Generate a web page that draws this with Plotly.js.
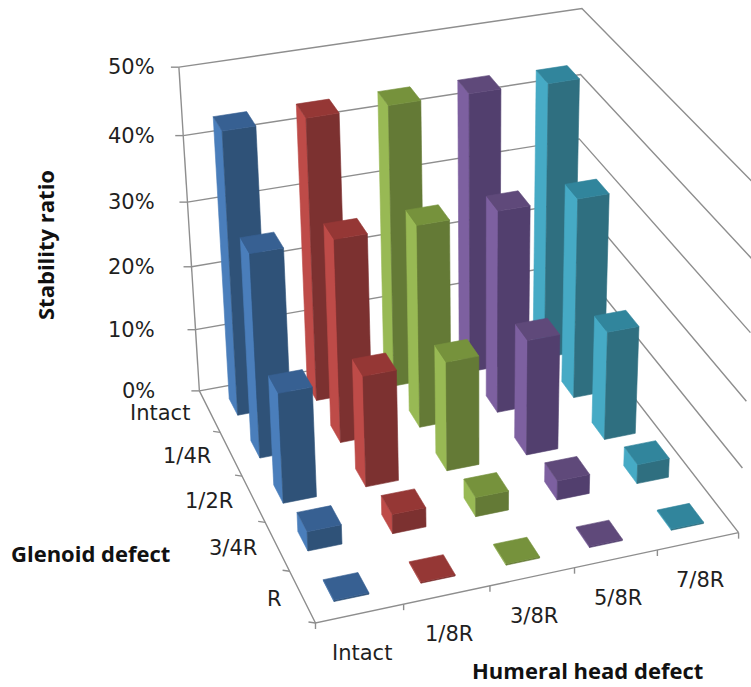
<!DOCTYPE html>
<html><head><meta charset="utf-8">
<script src="https://cdn.plot.ly/plotly-3.0.1.min.js"></script>
<style>html,body{margin:0;background:#fff}#c{width:751px;height:687px}</style></head>
<body><div id="c"></div>
<script>
// Stability ratio (%) by humeral head defect (series) and glenoid defect (rows)
const humeralDefects = ['Intact', '1/8R', '3/8R', '5/8R', '7/8R'];
const glenoidDefects = ['Intact', '1/4R', '1/2R', '3/4R', 'R'];
const seriesIntact = [43.8, 31.5, 17, 3, 0.2];
const series18R = [43.8, 31.5, 17.2, 3, 0.2];
const series38R = [43.8, 31.5, 17, 3, 0.2];
const series58R = [43.7, 31.6, 18, 3, 0.2];
const series78R = [43.4, 31.4, 17, 3, 0.2];
const allSeries = [seriesIntact, series18R, series38R, series58R, series78R];
const valueTicks = [0, 10, 20, 30, 40, 50];
const valueLabels = ['0%', '10%', '20%', '30%', '40%', '50%'];

// Face shades per series: side, front, top
const faceColors = [
  ['#4a7ebb', '#2f5278', '#376092'],
  ['#be4b48', '#7c3130', '#953735'],
  ['#98b954', '#647a36', '#76923c'],
  ['#7d60a0', '#523f6e', '#5f497a'],
  ['#46aac5', '#2f6f80', '#31859c']
];
const gridColor = '#8e8e8e';
const halfBar = 0.2;

// Camera calibration: world (humeral, glenoid, value) to screen pixels
const frontCorner = [0,5,0,316.7,622.7];
const calibration = [
  [0,0,0,203,391.5],[0,0,10,196.7,331],[0,0,20,191.7,266.7],[0,0,30,187,202.7],[0,0,40,183,135],[0,0,50,179.3,67.3],
  [5,0,50,581.7,8.3],[5,0,0,577,322],
  frontCorner,frontCorner,frontCorner,frontCorner,frontCorner,frontCorner,frontCorner,frontCorner,
  [0,1,0,216.7,431.7],[0,2,0,240.7,475],[0,3,0,260,520.7],[0,4,0,286,570.7],
  [1,5,0,402.7,606.7],[2,5,0,490,588],[3,5,0,575,570],[5,5,0,737,530]
];
function solve(A, b) {
  const n = b.length;
  for (let c = 0; c < n; c++) {
    let p = c;
    for (let r = c + 1; r < n; r++) if (Math.abs(A[r][c]) > Math.abs(A[p][c])) p = r;
    [A[c], A[p]] = [A[p], A[c]]; [b[c], b[p]] = [b[p], b[c]];
    for (let r = c + 1; r < n; r++) {
      const f = A[r][c] / A[c][c];
      for (let k = c; k < n; k++) A[r][k] -= f * A[c][k];
      b[r] -= f * b[c];
    }
  }
  const x = new Array(n);
  for (let r = n - 1; r >= 0; r--) {
    let s = b[r];
    for (let k = r + 1; k < n; k++) s -= A[r][k] * x[k];
    x[r] = s / A[r][r];
  }
  return x;
}
function fitCamera() {
  const AtA = Array.from({length: 11}, () => new Array(11).fill(0)), Atb = new Array(11).fill(0);
  const add = (row, rhs) => {
    for (let a = 0; a < 11; a++) {
      Atb[a] += row[a] * rhs;
      for (let c = 0; c < 11; c++) AtA[a][c] += row[a] * row[c];
    }
  };
  calibration.forEach(([X, Y, Z, u, v]) => {
    const x = X / 5, y = Y / 5, z = Z / 50, U = u / 700, V = v / 700;
    add([x, y, z, 1, 0, 0, 0, 0, -U * x, -U * y, -U * z], U);
    add([0, 0, 0, 0, x, y, z, 1, -V * x, -V * y, -V * z], V);
  });
  return solve(AtA, Atb);
}
const cam = fitCamera();
function project(X, Y, Z) {
  const x = X / 5, y = Y / 5, z = Z / 50;
  const w = cam[8] * x + cam[9] * y + cam[10] * z + 1;
  return [700 * (cam[0] * x + cam[1] * y + cam[2] * z + cam[3]) / w,
          700 * (cam[4] * x + cam[5] * y + cam[6] * z + cam[7]) / w];
}

const traces = [];
function polyline(points, color, width) {
  const p = points.map(q => project(q[0], q[1], q[2]));
  traces.push({type: 'scatter', mode: 'lines', x: p.map(q => q[0]), y: p.map(q => q[1]),
    line: {color, width: width || 1.4}, hoverinfo: 'skip'});
}
function face(points, color) {
  const p = points.map(q => project(q[0], q[1], q[2]));
  p.push(p[0]);
  traces.push({type: 'scatter', mode: 'lines', fill: 'toself', fillcolor: color, x: p.map(q => q[0]), y: p.map(q => q[1]),
    line: {color, width: 0.6}, hoverinfo: 'skip'});
}
function pixelTick(X, Y, Z, dx, dy) {
  const a = project(X, Y, Z);
  traces.push({type: 'scatter', mode: 'lines', x: [a[0], a[0] + dx], y: [a[1], a[1] + dy],
    line: {color: gridColor, width: 1.4}, hoverinfo: 'skip'});
}

// Walls, floor edges and tick marks
valueTicks.forEach(t => {
  polyline([[0, 0, t], [5, 0, t], [5, 5, t]], gridColor);
  pixelTick(0, 0, t, -8, 0);
});
polyline([[0, 0, 0], [0, 0, 50]], gridColor);
polyline([[0, 0, 0], [0, 5, 0], [5, 5, 0]], gridColor);
for (let k = 1; k <= 5; k++) pixelTick(0, k, 0, -7, -1);
for (let k = 0; k <= 5; k++) pixelTick(k, 5, 0, 0, 6);

// Boxes painted back to front: far rows first, right columns before left ones
glenoidDefects.forEach((_, row) => {
  for (let col = humeralDefects.length - 1; col >= 0; col--) {
    const v = allSeries[col][row];
    const [side, front, top] = faceColors[col];
    const x0 = col + 0.5 - halfBar, x1 = col + 0.5 + halfBar;
    const y0 = row + 0.5 - halfBar, y1 = row + 0.5 + halfBar;
    face([[x0, y0, 0], [x0, y1, 0], [x0, y1, v], [x0, y0, v]], side);
    face([[x0, y1, 0], [x1, y1, 0], [x1, y1, v], [x0, y1, v]], front);
    face([[x0, y0, v], [x1, y0, v], [x1, y1, v], [x0, y1, v]], top);
  }
});

const tickFont = {family: 'DejaVu Sans, sans-serif', size: 21, color: '#1f1f1f'};
const titleFont = {family: 'Open Sans, sans-serif', size: 22, color: '#111'};
const annotations = [];
function label(text, x, y, xanchor, font, angle) {
  annotations.push({text, x, y, xref: 'x', yref: 'y', xanchor, yanchor: 'middle', showarrow: false, font, textangle: angle || 0});
}
valueTicks.forEach((t, n) => { const p = project(0, 0, t); label(valueLabels[n], 157, p[1], 'right', tickFont); });
glenoidDefects.forEach((name, n) => { const p = project(0, n + 0.5, 0); label(name, p[0] - 18, p[1] + 2, 'right', tickFont); });
humeralDefects.forEach((name, n) => { const p = project(n + 0.5, 5, 0); label(name, p[0] + 2, p[1] + 39, 'center', tickFont); });
label('<b>Stability ratio</b>', 45, 245, 'center', titleFont, -90);
label('<b>Glenoid defect</b>', 90, 553, 'center', titleFont);
label('<b>Humeral head defect</b>', 587, 670, 'center', titleFont);

const layout = {
  width: 751, height: 687, paper_bgcolor: '#fff', plot_bgcolor: '#fff',
  margin: {l: 0, r: 0, t: 0, b: 0}, showlegend: false,
  xaxis: {visible: false, range: [0, 751], fixedrange: true},
  yaxis: {visible: false, range: [687, 0], fixedrange: true},
  annotations
};
Plotly.newPlot('c', traces, layout, {displayModeBar: false, staticPlot: true});
</script></body></html>
